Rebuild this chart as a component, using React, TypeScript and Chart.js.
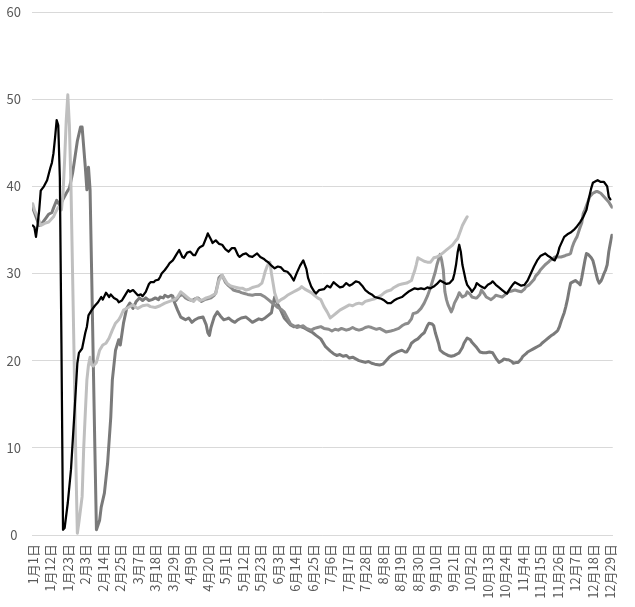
import { useEffect, useRef } from "react";
import { Chart, registerables } from "chart.js";

Chart.register(...registerables);

const tickLabels = [
  "1月1日", "1月12日", "1月23日", "2月3日", "2月14日", "2月25日", "3月7日", "3月18日", "3月29日",
  "4月9日", "4月20日", "5月1日", "5月12日", "5月23日", "6月3日", "6月14日", "6月25日", "7月6日",
  "7月17日", "7月28日", "8月8日", "8月19日", "8月30日", "9月10日", "9月21日", "10月2日", "10月13日",
  "10月24日", "11月4日", "11月15日", "11月26日", "12月7日", "12月18日", "12月29日",
];
const tickStepDays = 11;
const lastDay = 364;

// [day of year (0 = 1月1日), value]
const seriesBlack: [number, number][] = [
  [0,35.5],[1,35.3],[2,34.2],[3,35.6],[4,37.2],[5,39.5],[7,40],[9,40.7],[11,42.1],[12,42.7],[13,43.8],[14,45.6],[15,47.6],[16,47],[17,41],[18,22],[19,0.6],[20,0.8],[22,3.7],[24,7.5],[26,13.5],[28,19.7],[29,20.9],[31,21.4],[33,23.2],[34,23.9],[35,25.2],[37,25.8],[39,26.3],[41,26.7],[43,27.3],[44,27],[46,27.8],[48,27.3],[49,27.6],[51,27.2],[53,27],[54,26.7],[56,26.9],[57,27.2],[59,27.8],[60,28.1],[61,27.9],[63,28.1],[65,27.7],[66,27.5],[68,27.6],[69,27.4],[71,27.9],[73,28.8],[74,29],[76,29],[77,29.2],[79,29.3],[80,29.6],[81,30],[83,30.4],[85,30.9],[86,31.2],[88,31.5],[89,31.8],[90,32.1],[92,32.7],[94,31.9],[95,31.8],[97,32.4],[99,32.5],[101,32.1],[102,32.1],[104,32.8],[105,33],[107,33.2],[109,34.1],[110,34.6],[112,33.9],[113,33.5],[115,33.8],[117,33.4],[119,33.3],[121,32.8],[123,32.5],[125,32.9],[127,32.9],[129,32.1],[130,31.9],[132,32.2],[134,32.3],[136,32],[138,31.9],[141,32.3],[143,31.9],[145,31.7],[147,31.4],[148,31.3],[150,30.9],[152,30.6],[154,30.8],[156,30.7],[158,30.3],[160,30.2],[162,29.8],[164,29.2],[166,30.1],[168,30.9],[170,31.5],[172,30.5],[173,29.5],[175,28.5],[177,27.9],[178,27.7],[180,28.1],[183,28.2],[185,28.6],[187,28.4],[189,29],[191,28.7],[193,28.4],[195,28.5],[197,28.9],[199,28.6],[201,28.8],[203,29.1],[205,29],[207,28.6],[209,28.1],[211,27.8],[213,27.6],[215,27.3],[217,27.2],[219,27.1],[221,26.9],[223,26.6],[225,26.6],[227,26.9],[229,27.1],[232,27.3],[234,27.6],[236,27.9],[238,28.1],[240,28.3],[242,28.2],[244,28.3],[246,28.2],[248,28.4],[250,28.3],[252,28.5],[254,28.8],[256,29.2],[258,29],[260,28.8],[262,28.9],[264,29.3],[265,30],[266,31],[267,32.4],[268,33.3],[269,32.5],[270,31],[272,29.3],[273,28.7],[275,28.2],[276,27.9],[278,28.4],[279,28.9],[281,28.6],[283,28.4],[284,28.3],[286,28.7],[288,28.9],[289,29.1],[291,28.7],[293,28.4],[295,28.1],[297,27.8],[298,27.7],[300,28.3],[302,28.8],[303,29],[305,28.8],[307,28.6],[309,28.7],[311,29.2],[313,30],[315,30.8],[317,31.5],[319,32],[322,32.3],[324,32],[325,31.9],[327,31.6],[328,31.5],[330,32.3],[331,33],[333,33.8],[334,34.2],[336,34.5],[338,34.7],[340,35],[342,35.4],[344,35.9],[346,36.5],[348,37.3],[349,38.2],[350,39],[351,39.8],[352,40.4],[354,40.6],[355,40.7],[357,40.5],[359,40.5],[361,40],[362,38.8],[363,38.5],
];

const seriesLight: [number, number][] = [
  [0,38],[1,37.3],[3,36.5],[5,35.5],[6,35.6],[8,35.8],[10,35.9],[11,36.1],[13,36.5],[14,36.9],[16,37.6],[17,37.5],[18,37.3],[19,39.2],[20,43],[21,47.5],[22,50.5],[23,47],[24,40],[25,30],[26,20],[27,9],[28,0.2],[29,1.5],[31,4.4],[32,10],[33,14],[34,17.8],[35,19.5],[36,20.4],[37,19.5],[38,19.4],[40,19.8],[42,21.2],[44,21.8],[46,22],[48,22.6],[50,23.5],[52,24.3],[54,24.7],[55,25],[57,25.8],[60,26.1],[63,26.4],[65,26.1],[66,26],[69,26.3],[72,26.4],[74,26.2],[77,26.1],[80,26.3],[83,26.6],[86,26.8],[89,27],[91,27.3],[93,27.9],[95,27.6],[97,27.3],[99,27],[101,26.8],[103,27.2],[105,26.9],[107,27],[109,27.2],[111,27.3],[113,27.5],[115,27.7],[116,28.5],[117,29.2],[119,29.8],[120,29.5],[122,28.9],[124,28.6],[126,28.5],[128,28.4],[130,28.3],[132,28.3],[134,28.1],[136,28.2],[138,28.4],[140,28.5],[142,28.6],[144,28.9],[145,29.5],[146,30.2],[147,30.7],[148,31.1],[149,31.3],[150,30],[151,28.9],[152,27.8],[154,26.7],[156,27],[158,27.2],[160,27.5],[162,27.7],[164,27.9],[166,28.1],[168,28.3],[169,28.5],[171,28.2],[173,28],[175,27.8],[177,27.5],[179,27.2],[181,27],[183,26.2],[185,25.6],[187,24.9],[189,25.2],[191,25.5],[193,25.8],[195,26],[197,26.2],[199,26.4],[201,26.3],[203,26.5],[205,26.6],[207,26.5],[209,26.8],[211,26.9],[213,27],[215,27.1],[217,27.3],[219,27.5],[221,27.8],[223,28],[225,28.1],[227,28.4],[230,28.7],[232,28.8],[235,28.9],[238,29.2],[239,29.8],[240,30.3],[241,31],[242,31.8],[244,31.6],[246,31.4],[248,31.3],[250,31.3],[252,31.8],[254,31.9],[256,32.1],[258,32.4],[260,32.7],[262,33],[264,33.3],[266,33.8],[267,34],[269,35],[270,35.5],[272,36.2],[273,36.5],
];

const seriesMid: [number, number][] = [
  [88,27.2],[90,26.9],[92,27.4],[94,27.6],[96,27.2],[98,27],[100,26.9],[102,27.1],[104,27.2],[106,26.8],[108,27],[110,27.1],[112,27.2],[114,27.5],[115,27.8],[116,28.6],[117,29.5],[118,29.7],[119,29.8],[120,29.4],[121,29],[123,28.6],[125,28.3],[126,28.1],[128,28],[130,27.9],[131,27.8],[133,27.7],[135,27.6],[138,27.5],[140,27.6],[143,27.6],[146,27.3],[148,27],[150,26.7],[152,26.4],[154,26.1],[156,25.9],[158,25.6],[160,24.9],[162,24.2],[164,24],[166,23.8],[168,23.9],[170,24],[172,23.7],[175,23.5],[177,23.7],[179,23.8],[181,23.9],[183,23.7],[186,23.6],[188,23.4],[190,23.6],[192,23.5],[194,23.7],[197,23.5],[199,23.6],[201,23.8],[203,23.6],[205,23.5],[207,23.6],[209,23.8],[211,23.9],[213,23.8],[216,23.6],[218,23.7],[220,23.5],[222,23.3],[225,23.4],[227,23.5],[230,23.7],[232,24],[234,24.2],[236,24.3],[238,24.8],[239,25.4],[241,25.5],[242,25.6],[244,26],[246,26.6],[248,27.4],[250,28.4],[251,29],[253,30.2],[254,31],[256,32.2],[257,31.5],[258,30.4],[259,27.9],[260,27],[261,26.4],[263,25.6],[264,26],[265,26.6],[267,27.3],[268,27.8],[270,27.3],[272,27.5],[273,27.9],[275,27.6],[276,27.3],[278,27.2],[279,27.2],[281,27.6],[282,28.1],[284,27.6],[285,27.3],[287,27.1],[288,27],[290,27.3],[291,27.5],[293,27.4],[295,27.3],[297,27.6],[299,27.9],[301,28],[303,28.1],[305,28],[307,27.9],[309,28.2],[310,28.5],[312,28.7],[313,28.9],[315,29.3],[316,29.7],[318,30.1],[319,30.4],[321,30.8],[322,31],[324,31.3],[325,31.5],[327,31.7],[328,31.9],[330,31.9],[332,31.9],[334,32],[335,32.1],[337,32.2],[338,32.3],[339,33],[340,33.5],[341,33.9],[342,34.2],[344,35.3],[345,35.8],[346,36.9],[347,37.3],[348,37.8],[349,38.3],[350,38.8],[351,39],[352,39.2],[354,39.4],[355,39.4],[357,39.2],[358,39],[359,38.8],[360,38.6],[362,38.2],[363,37.9],[364,37.6],
];

const seriesDark: [number, number][] = [
  [0,37.5],[2,36.5],[4,35.5],[6,35.8],[8,36.3],[10,36.8],[12,37],[13,37.5],[15,38.4],[17,37.8],[19,38.5],[21,39.2],[23,39.8],[25,41.5],[26,42.7],[28,45.2],[30,46.8],[31,46.8],[32,44.5],[33,42.2],[34,39.6],[35,42.2],[36,39.6],[37,30],[38,20],[39,10],[40,0.6],[42,1.7],[43,3.2],[45,4.8],[47,8.2],[49,13.5],[50,17.8],[52,21.2],[54,22.4],[55,21.8],[57,24.3],[59,26],[61,26.6],[63,26],[65,26.8],[67,27.2],[69,26.9],[71,27.2],[73,26.9],[75,27],[77,27.2],[79,27],[80,27.3],[82,27.2],[83,27.5],[85,27.3],[87,27.5],[88,27.4],[89,26.7],[91,25.8],[93,25],[95,24.8],[96,24.7],[98,24.9],[100,24.4],[102,24.7],[104,24.9],[107,25],[109,24.1],[110,23.2],[111,22.9],[112,23.8],[114,25],[116,25.6],[118,25.1],[120,24.7],[122,24.8],[123,24.9],[125,24.6],[127,24.4],[129,24.7],[131,24.9],[134,25],[136,24.7],[138,24.4],[140,24.6],[142,24.8],[144,24.7],[146,24.9],[148,25.2],[150,25.5],[151,26.5],[152,27.3],[153,26.8],[155,26.1],[157,25.3],[158,24.9],[160,24.5],[162,24.1],[164,23.9],[167,24],[170,23.8],[173,23.5],[176,23.2],[178,22.9],[181,22.5],[184,21.6],[187,21.1],[189,20.8],[191,20.6],[193,20.7],[195,20.5],[197,20.6],[199,20.3],[201,20.4],[203,20.2],[205,20],[207,19.9],[209,19.8],[211,19.9],[213,19.7],[215,19.6],[218,19.5],[220,19.6],[221,19.8],[223,20.2],[224,20.4],[226,20.7],[227,20.8],[229,21],[232,21.2],[234,21],[235,21],[237,21.6],[238,22],[240,22.3],[242,22.5],[244,22.9],[246,23.2],[248,24],[249,24.3],[251,24.2],[252,24],[253,23.2],[255,22],[256,21.2],[258,20.9],[259,20.8],[261,20.6],[263,20.5],[265,20.6],[267,20.8],[268,20.9],[270,21.5],[271,22],[273,22.6],[275,22.4],[276,22.1],[278,21.7],[279,21.5],[281,21],[283,20.9],[285,20.9],[287,21],[289,20.9],[291,20.3],[293,19.8],[295,20],[296,20.2],[298,20.1],[299,20.1],[301,19.9],[302,19.7],[304,19.8],[305,19.8],[307,20.2],[308,20.5],[310,20.8],[311,21],[313,21.2],[314,21.3],[316,21.5],[317,21.6],[319,21.8],[320,22],[322,22.3],[324,22.6],[326,22.9],[327,23],[329,23.3],[330,23.5],[331,23.9],[332,24.5],[333,25],[334,25.5],[335,26.2],[336,27],[337,28],[338,28.9],[340,29.1],[341,29.2],[343,28.9],[344,28.7],[345,29.5],[346,30.5],[347,31.5],[348,32.3],[349,32.2],[350,32],[351,31.8],[352,31.5],[353,30.8],[354,30],[355,29.3],[356,28.9],[357,29.1],[358,29.5],[359,30],[360,30.4],[361,31],[362,32.5],[363,33.5],[364,34.4],
];

const toPoints = (s: [number, number][]) => s.map(([x, y]) => ({ x, y }));

export default function App() {
  const ref = useRef<HTMLCanvasElement>(null);

  useEffect(() => {
    if (!ref.current) return;
    const font = { family: '"Noto Sans CJK SC", "Noto Sans", sans-serif' };
    const lineBase = {
      pointRadius: 0,
      tension: 0,
      borderJoinStyle: "round" as const,
      borderCapStyle: "round" as const,
      fill: false,
    };
    const chart = new Chart(ref.current, {
      type: "line",
      data: {
        datasets: [
          { ...lineBase, label: "black", data: toPoints(seriesBlack), borderColor: "#000000", borderWidth: 2.25 },
          { ...lineBase, label: "light", data: toPoints(seriesLight), borderColor: "#bfbfbf", borderWidth: 3 },
          { ...lineBase, label: "mid", data: toPoints(seriesMid), borderColor: "#8c8c8c", borderWidth: 3 },
          { ...lineBase, label: "dark", data: toPoints(seriesDark), borderColor: "#7a7a7a", borderWidth: 3 },
        ],
      },
      options: {
        animation: false,
        responsive: true,
        maintainAspectRatio: false,
        layout: { padding: { top: 12, right: 9, left: 0, bottom: 0 } },
        plugins: { legend: { display: false }, tooltip: { enabled: false } },
        scales: {
          x: {
            type: "linear",
            min: -0.5,
            max: lastDay + 0.5,
            grid: { display: false, drawTicks: false },
            border: { display: true, color: "#d9d9d9", width: 1 },
            afterBuildTicks: (scale: any) => {
              scale.ticks = tickLabels.map((_, i) => ({ value: i * tickStepDays }));
            },
            afterFit: (scale: any) => {
              scale.height = 72;
            },
            ticks: {
              autoSkip: false,
              minRotation: 90,
              maxRotation: 90,
              padding: 9,
              color: "#595959",
              font: { ...font, size: 13 },
              callback: (v: any) => tickLabels[Math.round(Number(v) / tickStepDays)] ?? "",
            },
          },
          y: {
            min: 0,
            max: 60,
            grid: { color: "#d9d9d9", lineWidth: 1, drawTicks: false },
            border: { display: false },
            afterFit: (scale: any) => {
              scale.width = 32;
              scale.paddingTop = 0;
              scale.paddingBottom = 0;
            },
            ticks: {
              stepSize: 10,
              padding: 11,
              crossAlign: "center",
              color: "#595959",
              font: { ...font, size: 13 },
            },
          },
        },
      },
    });
    return () => chart.destroy();
  }, []);

  return (
    <div style={{ position: "fixed", left: 0, top: 0, width: 635, height: 607, background: "#ffffff" }}>
      <canvas ref={ref} />
    </div>
  );
}
